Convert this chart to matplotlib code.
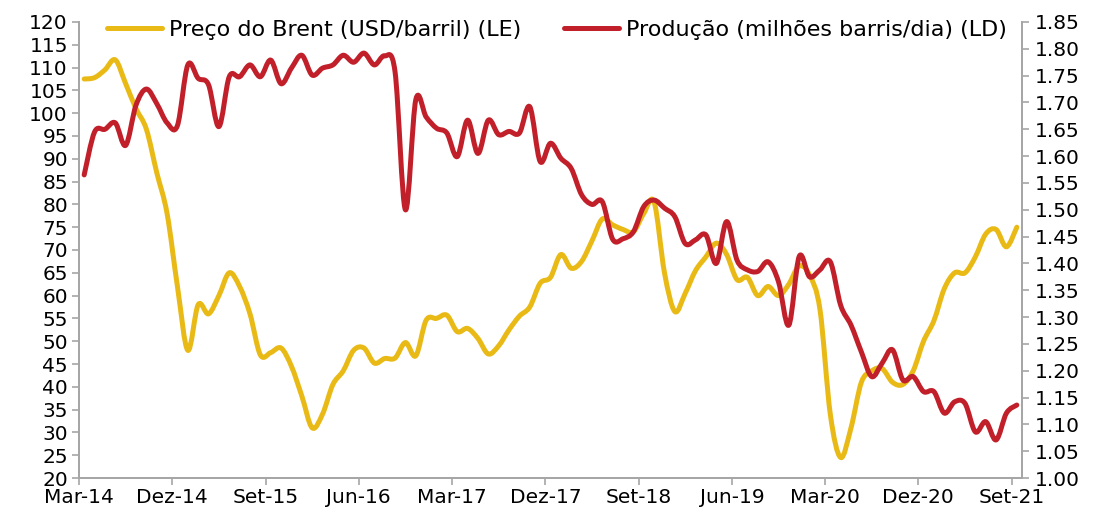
import numpy as np
import matplotlib
matplotlib.use('Agg')
import matplotlib.pyplot as plt
from matplotlib.path import Path
from matplotlib.patches import PathPatch
from matplotlib.lines import Line2D

# Monthly data, Mar-14 ... Set-21
brent = [107.5, 107.8, 109.5, 111.7, 106.5, 101.0, 96.5, 87.0, 78.0, 62.0,
         48.0, 58.0, 56.0, 60.0, 65.0, 62.0, 56.0, 47.0, 47.5, 48.5,
         44.5, 38.0, 31.0, 34.0, 40.5, 43.5, 48.0, 48.5, 45.2, 46.2,
         46.3, 49.7, 46.8, 54.6, 55.0, 55.7, 52.1, 52.8, 50.6, 47.2,
         49.0, 52.5, 55.5, 57.5, 62.7, 64.0, 69.0, 66.0, 67.5, 72.0,
         76.8, 75.5, 74.5, 74.0, 78.0, 80.5, 65.0, 56.5, 60.5, 65.5,
         68.5, 71.5, 69.0, 63.5, 64.0, 60.0, 62.0, 60.0, 62.5, 66.5,
         64.5, 57.0, 34.0, 24.5, 31.0, 41.0, 43.5, 44.0, 41.0, 40.5,
         43.5, 50.0, 54.5, 61.5, 65.0, 65.0, 68.5, 73.5, 74.5, 70.7,
         75.0]
producao = [1.565, 1.645, 1.650, 1.662, 1.620, 1.695, 1.725, 1.698, 1.662, 1.657,
            1.770, 1.745, 1.733, 1.655, 1.748, 1.748, 1.770, 1.748, 1.779, 1.735,
            1.764, 1.788, 1.751, 1.764, 1.770, 1.788, 1.775, 1.792, 1.770, 1.787,
            1.757, 1.500, 1.705, 1.673, 1.652, 1.643, 1.599, 1.667, 1.605, 1.667,
            1.640, 1.646, 1.643, 1.692, 1.590, 1.624, 1.596, 1.577, 1.528, 1.510,
            1.515, 1.445, 1.446, 1.459, 1.506, 1.518, 1.503, 1.487, 1.437, 1.444,
            1.453, 1.400, 1.478, 1.406, 1.388, 1.385, 1.403, 1.366, 1.285, 1.413,
            1.375, 1.388, 1.403, 1.322, 1.285, 1.235, 1.189, 1.214, 1.239, 1.183,
            1.189, 1.161, 1.161, 1.121, 1.142, 1.139, 1.086, 1.105, 1.071, 1.121,
            1.136]
tick_labels = ['Mar-14', 'Dez-14', 'Set-15', 'Jun-16', 'Mar-17', 'Dez-17',
               'Set-18', 'Jun-19', 'Mar-20', 'Dez-20', 'Set-21']
series_labels = ['Preço do Brent (USD/barril) (LE)',
                 'Produção (milhões barris/dia) (LD)']

YELLOW = '#E9BA16'
RED = '#C1202A'
GRAY = '#A6A6A6'

plt.rcParams['font.family'] = ['DejaVu Sans']

W, H = 1099, 509
fig = plt.figure(figsize=(W / 100, H / 100), dpi=100)
L, R, T, B = 79, 1022, 22, 478
ax = fig.add_axes([L / W, 1 - B / H, (R - L) / W, (B - T) / H])
ax2 = ax.twinx()

n = len(brent)
x = np.arange(n) + 0.5


def smooth_path(xs, ys):
    xs = np.asarray(xs, float)
    ys = np.asarray(ys, float)
    m = len(xs)
    verts = [(xs[0], ys[0])]
    codes = [Path.MOVETO]
    for i in range(m - 1):
        i0 = max(i - 1, 0)
        i3 = min(i + 2, m - 1)
        c1 = (xs[i] + (xs[i + 1] - xs[i0]) / 6, ys[i] + (ys[i + 1] - ys[i0]) / 6)
        c2 = (xs[i + 1] - (xs[i3] - xs[i]) / 6, ys[i + 1] - (ys[i3] - ys[i]) / 6)
        verts += [c1, c2, (xs[i + 1], ys[i + 1])]
        codes += [Path.CURVE4] * 3
    return Path(verts, codes)


LW = 3.6
ax.add_patch(PathPatch(smooth_path(x, brent), facecolor='none', edgecolor=YELLOW,
                       lw=LW, capstyle='round', joinstyle='round'))
ax2.add_patch(PathPatch(smooth_path(x, producao), facecolor='none', edgecolor=RED,
                        lw=LW, capstyle='round', joinstyle='round'))

ax.set_xlim(0, 91)
ax.set_ylim(20, 120)
ax2.set_ylim(1.00, 1.85)

ax.set_xticks(np.arange(0, 91, 9))
ax.set_xticklabels(tick_labels)
ax.set_yticks(np.arange(20, 121, 5))
ax2.set_yticks(np.round(np.arange(1.00, 1.851, 0.05), 2))
ax2.set_yticklabels([f'{v:.2f}' for v in np.arange(1.00, 1.851, 0.05)])

FS = 14.5
for a in (ax, ax2):
    a.spines['top'].set_visible(False)
    for s in a.spines.values():
        s.set_color(GRAY)
        s.set_linewidth(1.3)
    a.tick_params(direction='out', length=5, width=1.2, color=GRAY,
                  labelsize=FS, labelcolor='black')
ax.tick_params(axis='y', pad=3)
ax2.tick_params(axis='y', pad=4)
ax.tick_params(axis='x', pad=2)

LFS = 16
handles = [Line2D([], [], color=YELLOW, lw=LW, solid_capstyle='round'),
           Line2D([], [], color=RED, lw=LW, solid_capstyle='round')]
leg = ax2.legend(handles, series_labels, loc='center', ncol=2, frameon=False,
                 bbox_to_anchor=((557 - L) / (R - L), 1 - 8 / (B - T)),
                 fontsize=LFS, handlelength=2.5, handletextpad=0.32,
                 columnspacing=1.9, borderpad=0, borderaxespad=0)

fig.savefig('out.png', dpi=100)
